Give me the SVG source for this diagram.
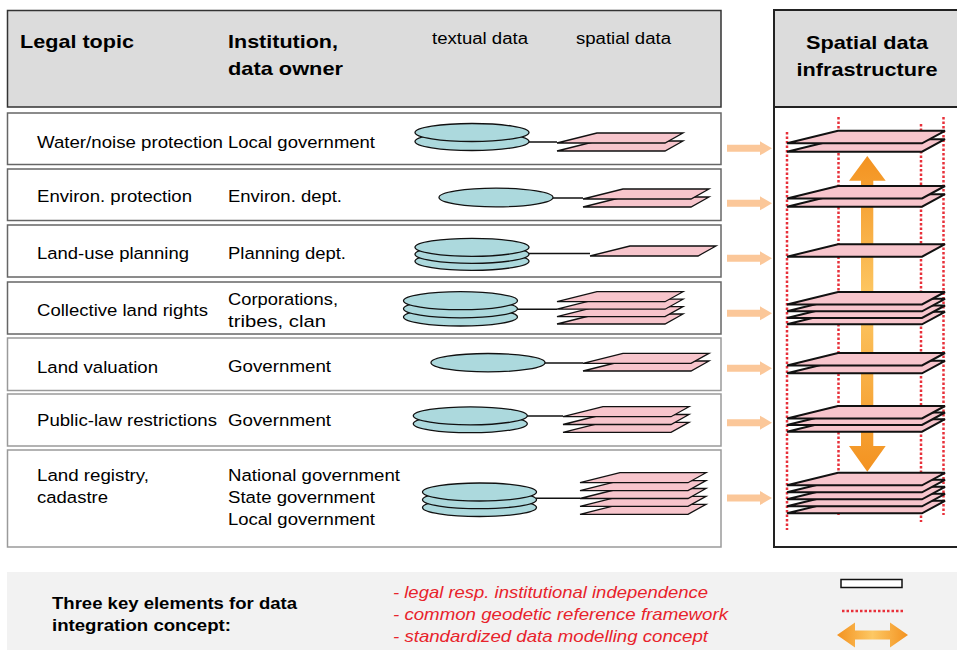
<svg xmlns="http://www.w3.org/2000/svg" width="957" height="650" viewBox="0 0 957 650">
<defs>
<style>
.t{font-family:"Liberation Sans",Arial,sans-serif;font-size:16.8px;fill:#000}
.h{font-family:"Liberation Sans",Arial,sans-serif;font-size:19px;font-weight:bold;fill:#000}
.s{font-family:"Liberation Sans",Arial,sans-serif;font-size:16px;fill:#000}
.b{font-family:"Liberation Sans",Arial,sans-serif;font-size:16.5px;font-weight:bold;fill:#000}
.r{font-family:"Liberation Sans",Arial,sans-serif;font-size:17px;font-style:italic;fill:#e8232b}
.row1{fill:#fff;stroke:#666;stroke-width:1.5}
.row2{fill:#fff;stroke:#9a9a9a;stroke-width:1.5}
.db{fill:#acd9dd;stroke:#111;stroke-width:1.3}
.sh{fill:#f7c5cc;stroke:#111;stroke-width:1.3;stroke-linejoin:miter}
.sdi{fill:#f7c5cc;stroke:#111;stroke-width:2}
.ln{stroke:#111;stroke-width:1.5;fill:none}
.dot{stroke:#e8303a;stroke-width:2.5;stroke-dasharray:2.5 2;fill:none}
.oa{fill:#fbc799}
</style>
<linearGradient id="gv" x1="0" y1="156" x2="0" y2="472" gradientUnits="userSpaceOnUse">
<stop offset="0" stop-color="#f39220"/>
<stop offset="0.45" stop-color="#fdc864"/>
<stop offset="1" stop-color="#f39220"/>
</linearGradient>
<linearGradient id="gh" x1="837" y1="0" x2="908" y2="0" gradientUnits="userSpaceOnUse">
<stop offset="0" stop-color="#f39220"/>
<stop offset="0.5" stop-color="#fdc864"/>
<stop offset="1" stop-color="#f39220"/>
</linearGradient>
<polygon id="sheet" points="0,0 40,-10 126,-10 108,0"/>
<polygon id="bigsheet" points="0,0 51,-12.5 158,-12.5 135,0"/>
<polygon id="sarrow" points="727,-3.5 760,-3.5 760,-7 772,0 760,7 760,3.5 727,3.5"/>
</defs>

<!-- header -->
<g id="header">
<rect x="7.5" y="10.5" width="713.5" height="96.5" fill="#dcdcdc" stroke="#333" stroke-width="1.5"/>
<text class="h" x="20" y="48" textLength="114" lengthAdjust="spacingAndGlyphs">Legal topic</text>
<text class="h" x="228" y="48" textLength="110" lengthAdjust="spacingAndGlyphs">Institution,</text>
<text class="h" x="228" y="75" textLength="115" lengthAdjust="spacingAndGlyphs">data owner</text>
<text class="s" x="432" y="44" textLength="96" lengthAdjust="spacingAndGlyphs">textual data</text>
<text class="s" x="576" y="44" textLength="95" lengthAdjust="spacingAndGlyphs">spatial data</text>
</g>

<!-- SDI column -->
<g id="sdi">
<rect x="774" y="10" width="190" height="537" fill="#fff" stroke="#222" stroke-width="2"/>
<rect x="774" y="10" width="190" height="97" fill="#dcdcdc" stroke="#222" stroke-width="2"/>
<text class="h" x="867" y="49" text-anchor="middle" textLength="122" lengthAdjust="spacingAndGlyphs">Spatial data</text>
<text class="h" x="867" y="76" text-anchor="middle" textLength="141" lengthAdjust="spacingAndGlyphs">infrastructure</text>
<line class="dot" x1="787" y1="132" x2="787" y2="530"/>
<line class="dot" x1="838.5" y1="117" x2="838.5" y2="515"/>
<line class="dot" x1="921" y1="124" x2="921" y2="522"/>
<line class="dot" x1="943.5" y1="117" x2="943.5" y2="515"/>
<polygon points="867.3,156 885.7,180.7 873.3,180.7 873.3,446 885.7,446 867.3,471.7 849,446 861,446 861,180.7 849,180.7" fill="url(#gv)"/>
<g class="sdi">
<use href="#bigsheet" x="787" y="151.7"/><use href="#bigsheet" x="787" y="143.3"/>
<use href="#bigsheet" x="787" y="206.7"/><use href="#bigsheet" x="787" y="198.5"/>
<use href="#bigsheet" x="787" y="256.7"/>
<use href="#bigsheet" x="787" y="324.3"/><use href="#bigsheet" x="787" y="318"/><use href="#bigsheet" x="787" y="311.3"/><use href="#bigsheet" x="787" y="304.5"/>
<use href="#bigsheet" x="787" y="373.3"/><use href="#bigsheet" x="787" y="365.5"/>
<use href="#bigsheet" x="787" y="431.7"/><use href="#bigsheet" x="787" y="425"/><use href="#bigsheet" x="787" y="418.5"/>
<use href="#bigsheet" x="787" y="513.3"/><use href="#bigsheet" x="787" y="506.3"/><use href="#bigsheet" x="787" y="499.3"/><use href="#bigsheet" x="787" y="492.3"/><use href="#bigsheet" x="787" y="485.3"/>
</g>
</g>

<!-- rows -->
<g id="row1">
<rect class="row1" x="7.5" y="113" width="713.5" height="51.5"/>
<text class="t" x="37" y="148" textLength="186" lengthAdjust="spacingAndGlyphs">Water/noise protection</text>
<text class="t" x="228" y="148" textLength="147" lengthAdjust="spacingAndGlyphs">Local government</text>
<line class="ln" x1="529" y1="142" x2="557" y2="142"/>
<ellipse class="db" cx="472" cy="141.5" rx="57" ry="9"/>
<ellipse class="db" cx="472" cy="132.5" rx="57" ry="9"/>
<g class="sh"><use href="#sheet" x="557" y="151"/><use href="#sheet" x="557" y="143"/></g>
</g>

<g id="row2">
<rect class="row1" x="7.5" y="169" width="713.5" height="51.5"/>
<text class="t" x="37" y="202" textLength="155" lengthAdjust="spacingAndGlyphs">Environ. protection</text>
<text class="t" x="228" y="202" textLength="114" lengthAdjust="spacingAndGlyphs">Environ. dept.</text>
<line class="ln" x1="553" y1="198" x2="583" y2="198"/>
<ellipse class="db" cx="496" cy="197.5" rx="57" ry="9.3"/>
<g class="sh"><use href="#sheet" x="583" y="207"/><use href="#sheet" x="583" y="199"/></g>
</g>

<g id="row3">
<rect class="row1" x="7.5" y="225" width="713.5" height="52"/>
<text class="t" x="37" y="259" textLength="152" lengthAdjust="spacingAndGlyphs">Land-use planning</text>
<text class="t" x="228" y="259" textLength="118" lengthAdjust="spacingAndGlyphs">Planning dept.</text>
<line class="ln" x1="529" y1="253.5" x2="590" y2="253.5"/>
<ellipse class="db" cx="472" cy="261.3" rx="57" ry="9"/>
<ellipse class="db" cx="472" cy="254.3" rx="57" ry="9"/>
<ellipse class="db" cx="472" cy="247.3" rx="57" ry="9"/>
<g class="sh"><use href="#sheet" x="590" y="256"/></g>
</g>

<g id="row4">
<rect class="row1" x="7.5" y="282" width="713.5" height="52"/>
<text class="t" x="37" y="316" textLength="171" lengthAdjust="spacingAndGlyphs">Collective land rights</text>
<text class="t" x="228" y="305" textLength="110" lengthAdjust="spacingAndGlyphs">Corporations,</text>
<text class="t" x="228" y="327" textLength="98" lengthAdjust="spacingAndGlyphs">tribes, clan</text>
<line class="ln" x1="517" y1="309.3" x2="557" y2="309.3"/>
<ellipse class="db" cx="460.5" cy="317" rx="57" ry="9"/>
<ellipse class="db" cx="460.5" cy="308.8" rx="57" ry="9"/>
<ellipse class="db" cx="460.5" cy="300.7" rx="57" ry="9"/>
<g class="sh"><use href="#sheet" x="557" y="324"/><use href="#sheet" x="557" y="316.6"/><use href="#sheet" x="557" y="309.2"/><use href="#sheet" x="557" y="301.7"/></g>
</g>

<g id="row5">
<rect class="row2" x="7.5" y="338" width="713.5" height="52.5"/>
<text class="t" x="37" y="373" textLength="121" lengthAdjust="spacingAndGlyphs">Land valuation</text>
<text class="t" x="228" y="372" textLength="103" lengthAdjust="spacingAndGlyphs">Government</text>
<line class="ln" x1="545" y1="363" x2="583" y2="363"/>
<ellipse class="db" cx="488" cy="362.7" rx="57" ry="9.2"/>
<g class="sh"><use href="#sheet" x="583" y="371"/><use href="#sheet" x="583" y="363.3"/></g>
</g>

<g id="row6">
<rect class="row2" x="7.5" y="394" width="713.5" height="52"/>
<text class="t" x="37" y="426" textLength="180" lengthAdjust="spacingAndGlyphs">Public-law restrictions</text>
<text class="t" x="228" y="426" textLength="103" lengthAdjust="spacingAndGlyphs">Government</text>
<line class="ln" x1="527" y1="416" x2="563" y2="416"/>
<ellipse class="db" cx="470.3" cy="423.7" rx="57" ry="9"/>
<ellipse class="db" cx="470.3" cy="415.8" rx="57" ry="9"/>
<g class="sh"><use href="#sheet" x="563" y="432.3"/><use href="#sheet" x="563" y="424.5"/><use href="#sheet" x="563" y="416.7"/></g>
</g>

<g id="row7">
<rect class="row2" x="7.5" y="450" width="713.5" height="97"/>
<text class="t" x="37" y="481" textLength="112" lengthAdjust="spacingAndGlyphs">Land registry,</text>
<text class="t" x="37" y="503" textLength="71" lengthAdjust="spacingAndGlyphs">cadastre</text>
<text class="t" x="228" y="481" textLength="172" lengthAdjust="spacingAndGlyphs">National government</text>
<text class="t" x="228" y="503" textLength="147" lengthAdjust="spacingAndGlyphs">State government</text>
<text class="t" x="228" y="525" textLength="147" lengthAdjust="spacingAndGlyphs">Local government</text>
<line class="ln" x1="536" y1="498.3" x2="580" y2="498.3"/>
<ellipse class="db" cx="479.5" cy="507.5" rx="57" ry="9"/>
<ellipse class="db" cx="479.5" cy="499.7" rx="57" ry="9"/>
<ellipse class="db" cx="479.5" cy="492" rx="57" ry="9"/>
<g class="sh"><use href="#sheet" x="580" y="514.3"/><use href="#sheet" x="580" y="506.4"/><use href="#sheet" x="580" y="498.5"/><use href="#sheet" x="580" y="490.6"/><use href="#sheet" x="580" y="482.7"/></g>
</g>

<!-- connectors -->
<g id="connectors" class="oa">
<use href="#sarrow" y="148.3"/>
<use href="#sarrow" y="203.3"/>
<use href="#sarrow" y="258.3"/>
<use href="#sarrow" y="313.3"/>
<use href="#sarrow" y="368.3"/>
<use href="#sarrow" y="422.7"/>
<use href="#sarrow" y="498"/>
</g>

<!-- legend -->
<g id="legend">
<rect x="7" y="572" width="950" height="78" fill="#f2f2f2"/>
<text class="b" x="52" y="609" textLength="245" lengthAdjust="spacingAndGlyphs">Three key elements for data</text>
<text class="b" x="52" y="631" textLength="179" lengthAdjust="spacingAndGlyphs">integration concept:</text>
<text class="r" x="393" y="598" textLength="315" lengthAdjust="spacingAndGlyphs">- legal resp. institutional independence</text>
<text class="r" x="393" y="620" textLength="335" lengthAdjust="spacingAndGlyphs">- common geodetic reference framework</text>
<text class="r" x="393" y="642" textLength="315" lengthAdjust="spacingAndGlyphs">- standardized data modelling concept</text>
<rect x="841" y="579.5" width="61" height="8" fill="#fff" stroke="#111" stroke-width="1.5"/>
<line class="dot" x1="842" y1="611" x2="905" y2="611"/>
<polygon points="837,635 855,622.5 855,630.5 890,630.5 890,622.5 908,635 890,647.5 890,639.5 855,639.5 855,647.5" fill="url(#gh)"/>
</g>
</svg>
